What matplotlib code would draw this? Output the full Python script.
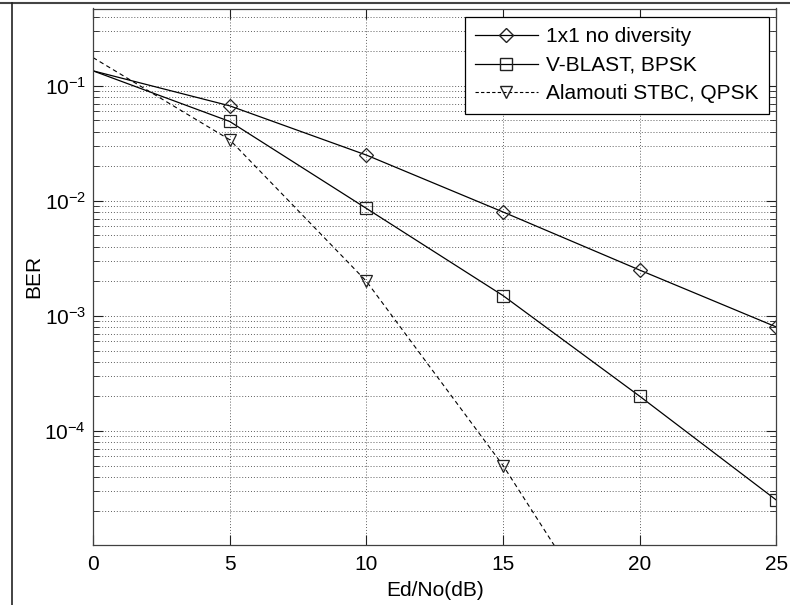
import numpy as np
import matplotlib
matplotlib.use("Agg")
import matplotlib.pyplot as plt
from matplotlib.lines import Line2D
from matplotlib.ticker import LogLocator, LogFormatterMathtext, NullFormatter

plt.rcParams['font.family'] = ['Liberation Sans', 'DejaVu Sans']
plt.rcParams['mathtext.fontset'] = 'custom'
plt.rcParams['mathtext.rm'] = 'Liberation Sans'
plt.rcParams['mathtext.it'] = 'Liberation Sans:italic'
plt.rcParams['mathtext.bf'] = 'Liberation Sans:bold'

# Ed/No points (dB)
snr_db = [0, 5, 10, 15, 20, 25]

# BER values
ber_1x1 = [0.135, 0.067, 0.025, 0.008, 0.0025, 0.0008]
ber_vblast = [0.135, 0.049, 0.0086, 0.0015, 0.0002, 0.000025]
ber_alamouti = [0.176, 0.034, 0.002, 0.00005, 0.0000007, 0.00000001]

labels = ['1x1 no diversity', 'V-BLAST, BPSK', 'Alamouti STBC, QPSK']

FS = 15
W, H = 790, 605
x0, x1, y0, y1 = 93, 776.5, 8.5, 545  # axes box in pixels
fig = plt.figure(figsize=(W / 100, H / 100), dpi=100)
ax = fig.add_axes([x0 / W, 1 - y1 / H, (x1 - x0) / W, (y1 - y0) / H])

mk = dict(markerfacecolor='none', markeredgecolor='#222222', markeredgewidth=0.9,
          markevery=range(1, len(snr_db)), clip_on=True)
ax.plot(snr_db, ber_1x1, color='black', lw=0.9, marker='D', ms=7, label=labels[0], **mk)
ax.plot(snr_db, ber_vblast, color='black', lw=0.9, marker='s', ms=9, label=labels[1], **mk)
ax.plot(snr_db, ber_alamouti, color='black', lw=0.8, ls=(0, (4, 3)), marker='v', ms=9,
        label=labels[2], **mk)

ax.set_yscale('log')
ax.set_xlim(0, 25)
ax.set_ylim(1.02e-5, 0.47)
ax.set_xticks([0, 5, 10, 15, 20, 25])
ax.yaxis.set_major_locator(LogLocator(base=10, numticks=10))
ax.yaxis.set_minor_locator(LogLocator(base=10, subs=np.arange(2, 10), numticks=10))
ax.yaxis.set_major_formatter(LogFormatterMathtext())
ax.yaxis.set_minor_formatter(NullFormatter())

ax.grid(True, which='major', axis='both', color='#606060', ls=(0, (1, 2)), lw=0.7)
ax.grid(True, which='minor', axis='y', color='#606060', ls=(0, (1, 2)), lw=0.7)

ax.tick_params(which='both', direction='in', top=True, right=True, labelsize=FS,
               color='#202020', pad=7)
ax.tick_params(axis='y', which='both', pad=5)
ax.tick_params(which='major', length=7)
ax.tick_params(which='minor', length=4)
for sp in ax.spines.values():
    sp.set_color('#404040')
    sp.set_linewidth(0.9)

ax.set_xlabel('Ed/No(dB)', fontsize=FS, labelpad=5)
ax.set_ylabel('BER', fontsize=FS)
ax.yaxis.set_label_coords((43 - x0) / (x1 - x0), 0.5)

handles = [
    Line2D([], [], color='black', lw=0.9, marker='D', ms=7, markerfacecolor='none',
           markeredgecolor='#222222'),
    Line2D([], [], color='black', lw=0.9, marker='s', ms=9, markerfacecolor='none',
           markeredgecolor='#222222'),
    Line2D([], [], color='black', lw=0.8, ls=(0, (3, 2)), marker='v', ms=9,
           markerfacecolor='none', markeredgecolor='#222222'),
]
leg = ax.legend(handles, labels, loc='upper right', bbox_to_anchor=(769 / W, 1 - 17 / H),
                bbox_transform=fig.transFigure, borderaxespad=0, fontsize=FS,
                handlelength=3.0, handletextpad=0.4, labelspacing=0.45,
                borderpad=0.5, fancybox=False, framealpha=1, edgecolor='black')
leg.get_frame().set_linewidth(0.9)

# screenshot frame lines at the top and left edge
fig.add_artist(Line2D([0, 1], [1 - 2.5 / H, 1 - 2.5 / H], color='#444444', lw=1.5,
                      transform=fig.transFigure))
fig.add_artist(Line2D([12 / W, 12 / W], [0, 1 - 2.5 / H], color='#222222', lw=1.2,
                      transform=fig.transFigure))

fig.savefig('out.png', dpi=100)
